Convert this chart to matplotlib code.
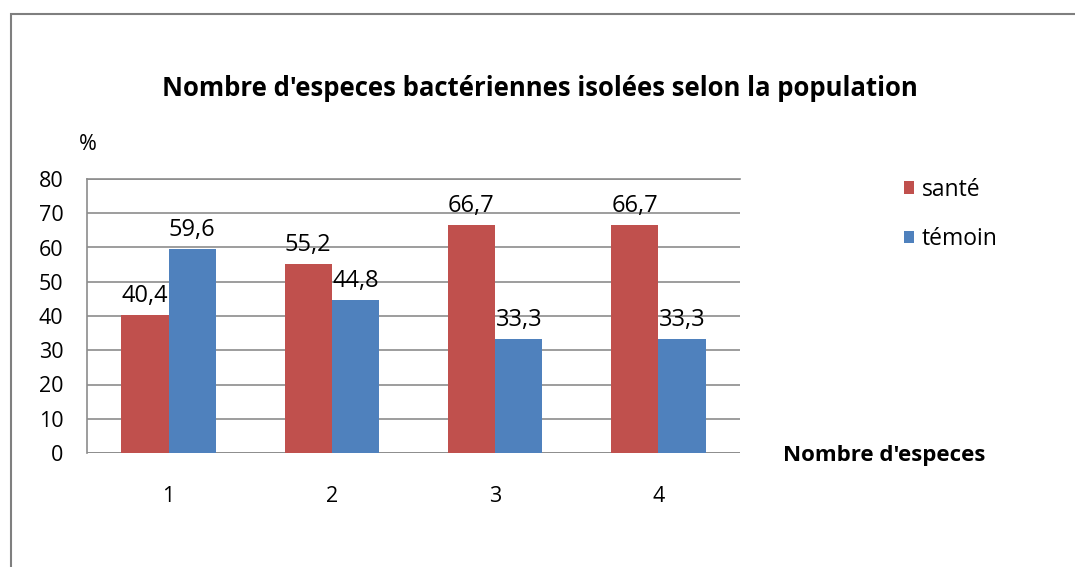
import matplotlib.pyplot as plt
import numpy as np
from matplotlib.patches import Rectangle

plt.rcParams['font.family'] = ['Open Sans', 'DejaVu Sans']

# ---- Data ----
CATEGORIES = ["1", "2", "3", "4"]
SANTE = [40.4, 55.2, 66.7, 66.7]
TEMOIN = [59.6, 44.8, 33.3, 33.3]
SERIES_NAMES = ["santé", "témoin"]
Y_TICKS = [0, 10, 20, 30, 40, 50, 60, 70, 80]

RED = "#C0504D"
BLUE = "#4F81BD"
GRID = "#8c8c8c"

fig = plt.figure(figsize=(10.75, 5.67), dpi=100)

# outer chart frame (only top and left visible)
fig.patches.append(Rectangle((11 / 1075, -0.1), 1.2, 1 - 14 / 567 + 0.1,
                             transform=fig.transFigure, fill=False,
                             edgecolor="#7f7f7f", linewidth=1.5))

ax = fig.add_axes([87 / 1075, 1 - 453 / 567, (740 - 87) / 1075, (453 - 179) / 567])

x = np.arange(len(CATEGORIES))
w = 0.29
b1 = ax.bar(x - w / 2, SANTE, width=w, color=RED, label=SERIES_NAMES[0], zorder=3)
b2 = ax.bar(x + w / 2, TEMOIN, width=w, color=BLUE, label=SERIES_NAMES[1], zorder=3)

for bars, vals in ((b1, SANTE), (b2, TEMOIN)):
    for rect, v in zip(bars, vals):
        ax.annotate(f"{v}".replace(".", ","),
                    (rect.get_x() + rect.get_width() / 2, v),
                    xytext=(0, 5), textcoords="offset points",
                    ha="center", va="bottom", fontsize=17, color="#000000", zorder=4)

ax.set_xlim(-0.5, len(CATEGORIES) - 0.5)
ax.set_ylim(0, 80)
ax.set_yticks(Y_TICKS)
ax.set_xticks(x)
ax.set_xticklabels(CATEGORIES)
ax.tick_params(axis="both", length=0, labelsize=15.5)
ax.tick_params(axis="x", pad=24)
ax.tick_params(axis="y", pad=17)
ax.yaxis.grid(True, color=GRID, linewidth=1.2, zorder=0)
for s in ("right", "bottom"):
    ax.spines[s].set_visible(False)
ax.spines["left"].set_color(GRID)
ax.spines["top"].set_color(GRID)
ax.spines["left"].set_linewidth(1.2)
ax.spines["top"].set_linewidth(1.2)
ax.axhline(0, color=GRID, linewidth=1.2, zorder=2)

fig.text(540 / 1075, 1 - 88 / 567, "Nombre d'especes bactériennes isolées selon la population",
         ha="center", va="center", fontsize=18.5, fontweight="bold")
fig.text(88 / 1075, 1 - 144 / 567, "%", ha="center", va="center", fontsize=15.5)
fig.text(783 / 1075, 1 - 455 / 567, "Nombre d'especes", ha="left", va="center",
         fontsize=16, fontweight="bold")

fig.legend(loc="upper left", bbox_to_anchor=(883 / 1075, 1 - 157 / 567),
           frameon=False, fontsize=16.5, handlelength=0.45, handleheight=0.45,
           handletextpad=0.35, labelspacing=1.1)

plt.savefig("out.png", dpi=100)
